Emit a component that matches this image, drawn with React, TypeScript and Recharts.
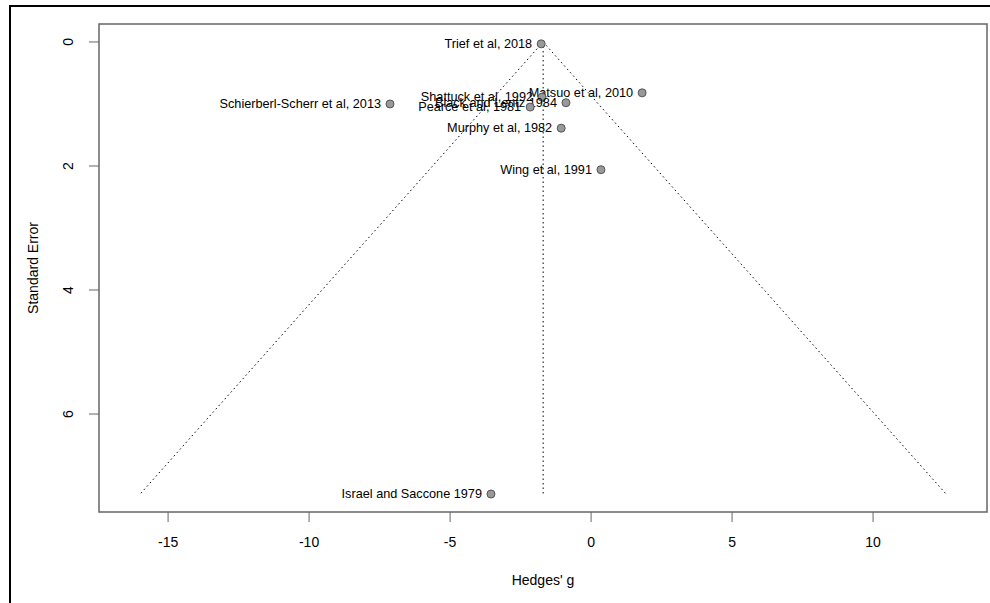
import React from 'react';
import {
  ScatterChart,
  Scatter,
  XAxis,
  YAxis,
  ReferenceLine,
  ReferenceArea,
  Label
} from 'recharts';

const studies = [
  'Trief et al, 2018',
  'Matsuo et al, 2010',
  'Shattuck et al, 1992',
  'Black and Lentz 1984',
  'Pearce et al, 1981',
  'Schierberl-Scherr et al, 2013',
  'Murphy et al, 1982',
  'Wing et al, 1991',
  'Israel and Saccone 1979'
];
const hedgesG = [-1.77, 1.81, -1.74, -0.89, -2.16, -7.13, -1.06, 0.35, -3.55];
const stdErr = [0.03, 0.82, 0.89, 0.98, 1.05, 1.0, 1.39, 2.06, 7.29];

const pooled = [-1.7];
const funnelSE = [0, 7.29];
const xTicks = [-15, -10, -5, 0, 5, 10];
const yTicks = [0, 2, 4, 6];

const X_DOMAIN: [number, number] = [-17.45, 14.04];
const Y_DOMAIN: [number, number] = [-0.29, 7.58];
const FONT = '"Liberation Sans", Arial, Helvetica, sans-serif';

const data = studies.map((study, i) => ({ study, g: hedgesG[i], se: stdErr[i] }));

const est = pooled[0];
const seMax = funnelSE[1];
const lo = est - 1.96 * seMax;
const hi = est + 1.96 * seMax;

const XTick = ({ x, y, payload }: any) => (
  <text x={x} y={y + 25} textAnchor="middle" fontSize={14} fill="#000" fontFamily={FONT}>
    {payload.value}
  </text>
);

const YTick = ({ x, y, payload }: any) => (
  <text
    transform={`translate(${x - 16},${y}) rotate(-90)`}
    textAnchor="middle"
    fontSize={14}
    fill="#000"
    fontFamily={FONT}
  >
    {payload.value}
  </text>
);

const StudyDot = (props: any) => {
  const { cx, cy, payload } = props;
  return (
    <g>
      <circle cx={cx} cy={cy} r={4} fill="#999" stroke="#555" strokeWidth={1} />
      <text x={cx - 9} y={cy + 4} textAnchor="end" fontSize={12.7} fill="#000" fontFamily={FONT}>
        {payload.study}
      </text>
    </g>
  );
};

const App = () => {
  return (
    <div style={{ position: 'absolute', left: 0, top: 0, width: 990, height: 603, background: '#fff' }}>
      <div
        style={{
          position: 'absolute',
          left: 9,
          top: 5,
          width: 990,
          height: 610,
          borderLeft: '2px solid #000',
          borderTop: '2px solid #000'
        }}
      />
      <ScatterChart
        width={990}
        height={603}
        margin={{ top: 24, right: 3, bottom: 0, left: 0 }}
        style={{ position: 'absolute', left: 0, top: 0 }}
      >
        <XAxis
          type="number"
          dataKey="g"
          domain={X_DOMAIN}
          allowDataOverflow
          ticks={xTicks}
          height={91}
          axisLine={false}
          tickSize={10}
          tickMargin={0}
          tickLine={{ stroke: '#666' }}
          tick={<XTick />}
        >
          <Label
            content={({ viewBox }: any) => (
              <text
                x={viewBox.x + viewBox.width / 2}
                y={viewBox.y + 73}
                textAnchor="middle"
                fontSize={14}
                fill="#000"
                fontFamily={FONT}
              >
                Hedges' g
              </text>
            )}
          />
        </XAxis>
        <YAxis
          type="number"
          dataKey="se"
          domain={Y_DOMAIN}
          reversed
          allowDataOverflow
          ticks={yTicks}
          width={99}
          axisLine={false}
          tickSize={10}
          tickMargin={0}
          tickLine={{ stroke: '#666' }}
          tick={<YTick />}
        >
          <Label
            content={({ viewBox }: any) => (
              <text
                transform={`translate(38,${viewBox.y + viewBox.height / 2}) rotate(-90)`}
                textAnchor="middle"
                fontSize={14}
                fill="#000"
                fontFamily={FONT}
              >
                Standard Error
              </text>
            )}
          />
        </YAxis>
        <ReferenceArea
          x1={X_DOMAIN[0]}
          x2={X_DOMAIN[1]}
          y1={Y_DOMAIN[0]}
          y2={Y_DOMAIN[1]}
          fill="none"
          stroke="#666"
          strokeWidth={1.5}
          ifOverflow="visible"
        />
        <ReferenceLine
          segment={[{ x: est, y: funnelSE[0] }, { x: lo, y: seMax }]}
          stroke="#000"
          strokeDasharray="1.5 3"
          ifOverflow="visible"
        />
        <ReferenceLine
          segment={[{ x: est, y: funnelSE[0] }, { x: hi, y: seMax }]}
          stroke="#000"
          strokeDasharray="1.5 3"
          ifOverflow="visible"
        />
        <ReferenceLine
          segment={[{ x: est, y: funnelSE[0] }, { x: est, y: seMax }]}
          stroke="#000"
          strokeDasharray="1.5 3"
          ifOverflow="visible"
        />
        <Scatter data={data} shape={<StudyDot />} isAnimationActive={false} />
      </ScatterChart>
    </div>
  );
};

export default App;
